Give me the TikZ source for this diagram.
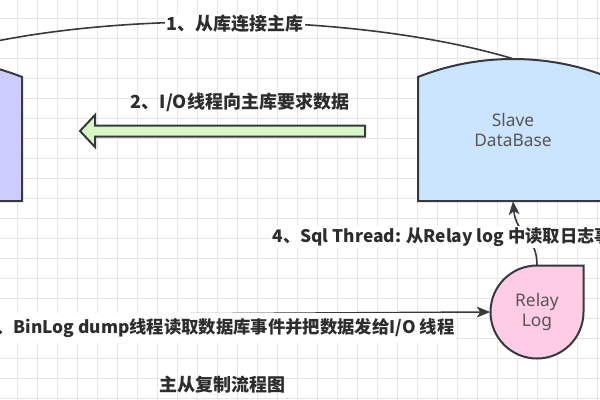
\documentclass[tikz,border=0pt]{standalone}
\usepackage{fontspec}
\usepackage{xcolor}
\usepackage{tikz}
\usetikzlibrary{arrows.meta}
\newfontfamily\cjkfont{Noto Sans CJK SC}
\newfontfamily\boxfont{Noto Sans}
\definecolor{gridgray}{RGB}{230,230,230}
\definecolor{edgegray}{RGB}{54,57,61}
\definecolor{masterfill}{RGB}{204,204,255}
\definecolor{slavefill}{RGB}{204,229,255}
\definecolor{relayfill}{RGB}{255,204,230}
\definecolor{pipefill}{RGB}{217,247,197}
\definecolor{labelgray}{RGB}{45,45,45}
\definecolor{textgray}{RGB}{85,85,85}

\begin{document}
\begin{tikzpicture}[
    x=0.75pt, y=-0.75pt,
    gridline/.style={gridgray, line width=0.6pt},
    shapeline/.style={draw=edgegray, line width=1.5pt},
    dbtext/.style={font=\boxfont\fontsize{13}{15.5}\selectfont, text=textgray, align=center},
    lbl/.style={font=\cjkfont\bfseries\fontsize{13.5}{16}\selectfont, text=labelgray,
                fill=white, inner sep=1pt},
    smalllbl/.style={lbl, font=\cjkfont\bfseries\fontsize{13}{16}\selectfont},
    arr/.style={-{Stealth[length=10pt, width=8pt, inset=2.5pt]}, edgegray, line width=1.2pt},
    pipe/.style={draw=edgegray, fill=pipefill, line width=1.5pt}
  ]
    \useasboundingbox (0,0) rectangle (600,400);
    \clip (0,0) rectangle (600,400);
    % Grid
    \fill[white] (0,0) rectangle (600,400);
    \foreach \gx in {17,37,...,597} \draw[gridline] (\gx,0) -- (\gx,400);
    \foreach \gy in {18,38,...,398} \draw[gridline] (0,\gy) -- (600,\gy);
    % Master (cut off at the left)
    \draw[shapeline, fill=masterfill] (22,201) -- (22,77) .. controls (-8,65) and (-40.5,59) .. (-73,59)
        .. controls (-105.5,59) and (-138,65) .. (-168,77) -- (-168,201) -- cycle;
    \node[minimum width=142.5pt, minimum height=106.5pt] (master) at (-73,130) {};
    % Slave
    \draw[shapeline, fill=slavefill] (418,201) -- (418,77) .. controls (448,65) and (480.5,59) .. (513,59)
        .. controls (545.5,59) and (578,65) .. (608,77) -- (608,201) -- cycle;
    \node[dbtext, minimum width=142.5pt, minimum height=106.5pt] (slave) at (513,130) {Slave\\DataBase};
    % Relay log
    \draw[shapeline, fill=relayfill] (583.5,312) arc[start angle=0, end angle=-270, radius=34.875pt]
        -- (583.5,265.5) -- cycle;
    \node[dbtext, circle, minimum size=69.75pt] (relay) at (537,312) {Relay\\Log};
    % Arrows
    \coordinate (binlog) at (-10,315);
    \draw[arr] (slave.north) .. controls (350,10) and (87,10) .. (master.north);
    \draw[arr] (binlog) -- (relay.west);
    \draw[arr] (relay.north) .. controls (537,235) and (516,235) .. (slave.south);
    % I/O request
    \coordinate (iostart) at (365,131);
    \coordinate (ioend) at (80,131);
    \draw[pipe] (iostart) ++(0,-5.5) -- ++(-270,0) -- ++(0,-10.5) -- (ioend) -- ++(15,16)
        -- ++(0,-10.5) -- ++(270,0) -- cycle;
    % Labels
    \node[lbl] (connect) at (235,24) {1、从库连接主库};
    \node[lbl, fill=none] (request) at (240,102) {2、I/O线程向主库要求数据};
    \node[smalllbl, anchor=east, minimum height=22pt] (dump) at (456,328) {3、BinLog dump线程读取数据库事件并把数据发给I/O 线程};
    \node[smalllbl, anchor=west] (sqlread) at (271,237) {4、Sql Thread: 从Relay log 中读取日志事件};
    \node[lbl, fill=none] (caption) at (222,385) {主从复制流程图};
  \end{tikzpicture}
\end{document}
